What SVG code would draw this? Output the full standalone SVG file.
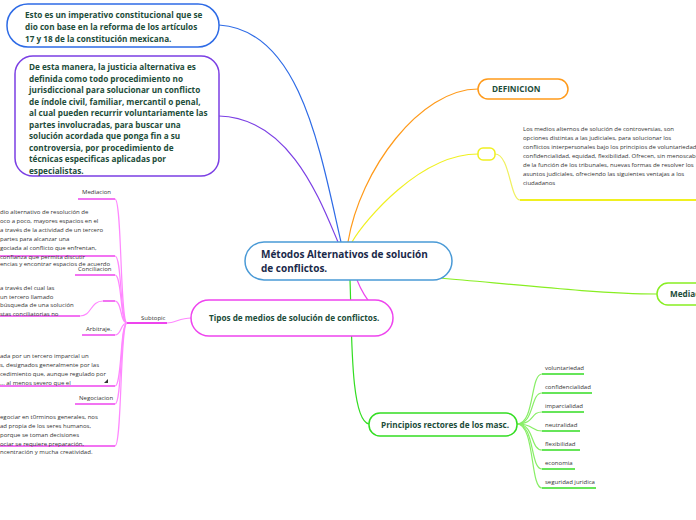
<svg xmlns="http://www.w3.org/2000/svg" width="696" height="520" viewBox="0 0 696 520">
<style>
.b{font-family:"Open Sans","Noto Sans",sans-serif;font-weight:bold;fill:#1d4d3a;font-size:8.2px}
.s{font-family:"Open Sans","Noto Sans",sans-serif;fill:#333;font-size:6px}
.n{fill:#fff;stroke-width:1.5}
.c{fill:none;stroke-width:1.2}
</style>
<rect width="696" height="520" fill="#fff"/>
<g id="connectors">
<path class="c" stroke="#2e6be6" d="M219,25 C300,30 320,150 341,242"/>
<path class="c" stroke="#7b3fe4" d="M219,116 C290,118 320,200 338,242"/>
<path class="c" stroke="#ff9a1a" d="M478,89 C420,89 360,170 348,242"/>
<path class="c" stroke="#f0f020" d="M478,154 C420,154 365,220 352,242"/>
<path class="c" stroke="#88ee22" d="M440,278 C520,285 600,294 657,294"/>
<path class="c" stroke="#ee44ee" d="M357,280 C365,300 380,318 393,318"/>
<path class="c" stroke="#33dd22" stroke-width="1.6" d="M350,280 C352,330 350,420 369,424"/>
<path class="c" stroke="#ff88ff" d="M191,318 C180,318 175,323 167,323"/>
<path stroke="#ee44ee" stroke-width="2" d="M127,323 H167"/>
<g stroke="#ff88ff" class="c">
<path d="M127,323 C120,323 122,199 115,199"/><path d="M127,323 C120,323 122,256 115,256"/><path d="M127,323 C120,323 122,275 115,275"/><path d="M127,323 C120,323 122,301 115,301"/><path d="M127,323 C120,323 122,335 115,335"/><path d="M127,323 C120,323 122,386 115,386"/><path d="M127,323 C120,323 122,404 115,404"/><path d="M127,323 C120,323 122,446 115,446"/>
<path d="M80,316 C92,316 90,301 103,301"/>
</g>
<g stroke="#ee44ee" stroke-width="1.5">
<path d="M78,199 H115"/><path d="M0,256 H115"/><path d="M75,275 H115"/><path d="M0,316 H80"/><path d="M103,301 H115"/><path d="M82,335 H115"/><path d="M0,386 H115"/><path d="M75,404 H115"/><path d="M0,446 H115"/>
</g>
<g stroke="#88ee66" class="c">
<path d="M517,424 C535,424 530,374 542,374"/><path d="M517,424 C535,424 530,393 542,393"/><path d="M517,424 C535,424 530,412 542,412"/><path d="M517,424 C535,424 530,431 542,431"/><path d="M517,424 C535,424 530,450 542,450"/><path d="M517,424 C535,424 530,469 542,469"/><path d="M517,424 C535,424 530,488 542,488"/>
</g>
<g stroke="#33dd22" stroke-width="1.5">
<path d="M542,374 H584"/><path d="M542,393 H592"/><path d="M542,412 H584"/><path d="M542,431 H580"/><path d="M542,450 H580"/><path d="M542,469 H575"/><path d="M542,488 H596"/>
</g>
<path class="c" stroke="#f0f060" d="M495,154 C510,154 510,200 520,200"/>
<path stroke="#f0f020" stroke-width="1.8" d="M520,200 H696"/>
</g>
<g id="n1"><rect class="n" stroke="#2e6be6" x="7" y="4" width="212" height="43" rx="21"/>
<text class="b"><tspan x="25" y="18">Esto es un imperativo constitucional que se</tspan><tspan x="25" y="30">dio con base en la reforma de los artículos</tspan><tspan x="25" y="42">17 y 18 de la constitución mexicana.</tspan></text></g>
<g id="n2"><rect class="n" stroke="#7b3fe4" x="15" y="56" width="204" height="120" rx="18"/>
<text class="b"><tspan x="29" y="70">De esta manera, la justicia alternativa es</tspan><tspan x="29" y="81.5">definida como todo procedimiento no</tspan><tspan x="29" y="93">jurisdiccional para solucionar un conflicto</tspan><tspan x="29" y="104.5">de índole civil, familiar, mercantil o penal,</tspan><tspan x="29" y="116">al cual pueden recurrir voluntariamente las</tspan><tspan x="29" y="127.5">partes involucradas, para buscar una</tspan><tspan x="29" y="139">solución acordada que ponga fin a su</tspan><tspan x="29" y="150.5">controversia, por procedimiento de</tspan><tspan x="29" y="162">técnicas especificas aplicadas por</tspan><tspan x="29" y="173.5">especialistas.</tspan></text></g>
<g id="central"><rect class="n" stroke="#4a9ad6" x="245" y="242" width="207" height="38" rx="19"/>
<text class="b" style="fill:#1a2a4a;font-size:10px"><tspan x="261" y="258">Métodos Alternativos de solución</tspan><tspan x="261" y="272">de conflictos.</tspan></text></g>
<g id="tipos"><rect class="n" stroke="#ee44ee" x="191" y="300" width="202" height="36" rx="18"/><text class="b" x="209" y="321">Tipos de medios de solución de conflictos.</text></g>
<g id="principios"><rect class="n" stroke="#33dd22" x="369" y="413" width="148" height="23" rx="11"/><text class="b" x="381" y="428">Principios rectores de los masc.</text></g>
<g id="definicion"><rect class="n" stroke="#ff9a1a" x="478" y="79" width="90" height="20" rx="10"/><text class="b" x="492" y="92">DEFINICION</text></g>
<g id="yellow"><rect class="n" stroke="#f0f020" x="478" y="148" width="17" height="12" rx="5"/></g>
<g id="mediac"><rect class="n" stroke="#88ee22" x="657" y="283" width="60" height="22" rx="11"/><text class="b" x="670" y="297">Mediacion</text></g>
<g id="deftext"><text class="s"><tspan x="523" y="131">Los medios alternos de solución de controversias, son</tspan><tspan x="523" y="140">opciones distintas a las judiciales, para solucionar los</tspan><tspan x="523" y="149">conflictos interpersonales bajo los principios de voluntariedad,</tspan><tspan x="523" y="158">confidencialidad, equidad, flexibilidad. Ofrecen, sin menoscabo</tspan><tspan x="523" y="167">de la función de los tribunales, nuevas formas de resolver los</tspan><tspan x="523" y="176">asuntos judiciales, ofreciendo las siguientes ventajas a los</tspan><tspan x="523" y="185">ciudadanos</tspan></text></g>
<g id="principles">
<text class="s" x="545" y="370">voluntariedad</text><text class="s" x="545" y="389">confidencialidad</text><text class="s" x="545" y="408">imparcialidad</text><text class="s" x="545" y="427">neutralidad</text><text class="s" x="545" y="446">flexibilidad</text><text class="s" x="545" y="465">economia</text><text class="s" x="545" y="484">seguridad juridica</text>
</g>
<g id="subtopic"><text class="s" x="141" y="320">Subtopic</text></g>
<g id="left">
<text class="s" x="82" y="194">Mediacion</text>
<text class="s"><tspan x="0" y="214">dio alternativo de resolución de</tspan><tspan x="0" y="223">oco a poco, mayores espacios en el</tspan><tspan x="0" y="232">a través de la actividad de un tercero</tspan><tspan x="0" y="241">partes para alcanzar una</tspan><tspan x="0" y="250">gociada al conflicto que enfrentan,</tspan><tspan x="0" y="259">confianza que permita discutir</tspan><tspan x="0" y="266">encias y encontrar espacios de acuerdo</tspan></text>
<text class="s" x="78" y="271">Conciliacion</text>
<text class="s"><tspan x="0" y="290">a través del cual las</tspan><tspan x="0" y="298.5">un tercero llamado</tspan><tspan x="0" y="307">búsqueda de una solución</tspan><tspan x="0" y="315.5">stas conciliatorias no</tspan></text>
<text class="s" x="86" y="331">Arbitraje.</text>
<text class="s"><tspan x="0" y="358">ada por un tercero imparcial un</tspan><tspan x="0" y="367">s, designados generalmente por las</tspan><tspan x="0" y="376">cedimiento que, aunque regulado por</tspan><tspan x="0" y="385">... al menos severo que el</tspan></text>
<path d="M104,383 L108,379 L108,383 Z" fill="#333"/>
<text class="s" x="79" y="400">Negociacion</text>
<text class="s"><tspan x="0" y="419">egociar en t0rminos generales, nos</tspan><tspan x="0" y="428">ad propia de los seres humanos,</tspan><tspan x="0" y="437">porque se toman decisiones</tspan><tspan x="0" y="446">ociar se requiere preparación,</tspan><tspan x="0" y="454">ncentración y mucha creatividad.</tspan></text>
</g>
</svg>
